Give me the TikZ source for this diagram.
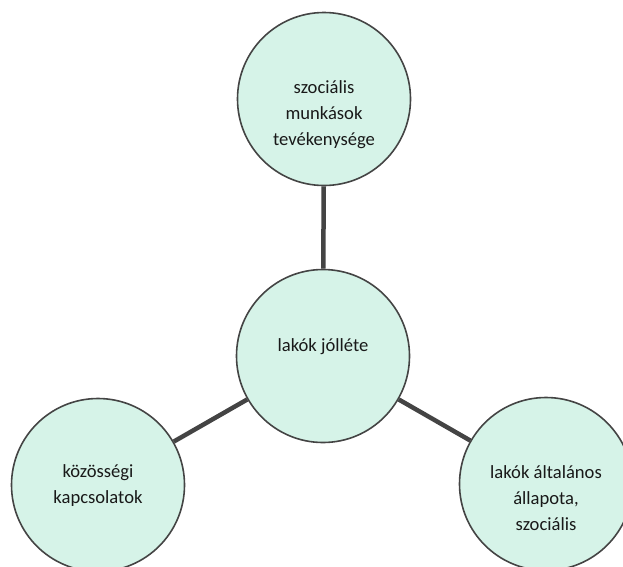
\documentclass[tikz,border=0pt]{standalone}
\usepackage{fontspec}
\setmainfont{Carlito}
\definecolor{mint}{RGB}{214,243,232}
\definecolor{rim}{RGB}{68,68,68}
\begin{document}
\begin{tikzpicture}[x=1pt, y=-1pt,
  bubble/.style={circle, draw=rim, line width=1.6pt, fill=mint, minimum size=173pt, inner sep=0pt},
  caption/.style={align=center, text=black!90, font=\fontsize{18.6}{26}\selectfont},
  link/.style={draw=rim, line width=4.5pt}]
\useasboundingbox (0, 0) rectangle (623, 566);
% circles
\node[bubble] (work) at (324, 99) {};
\node[bubble] (well) at (323, 356) {};
\node[bubble] (comm) at (98, 485) {};
\node[bubble] (state) at (546, 484) {};
% texts, set a little off the centres as in the original
\node[caption] (worktext) at ([yshift=-16]work.center) {szociális\\munkások\\tevékenysége};
\node[caption] (welltext) at ([yshift=9]well.center) {lakók jólléte};
\node[caption] (commtext) at ([yshift=-1]comm.center) {közösségi\\kapcsolatok};
\node[caption] (statetext) at ([yshift=-14]state.center) {lakók általános\\állapota,\\szociális};
% links
\draw[link] (well) -- (work);
\draw[link] (well) -- (comm);
\draw[link] (well) -- (state);
\end{tikzpicture}
\end{document}
